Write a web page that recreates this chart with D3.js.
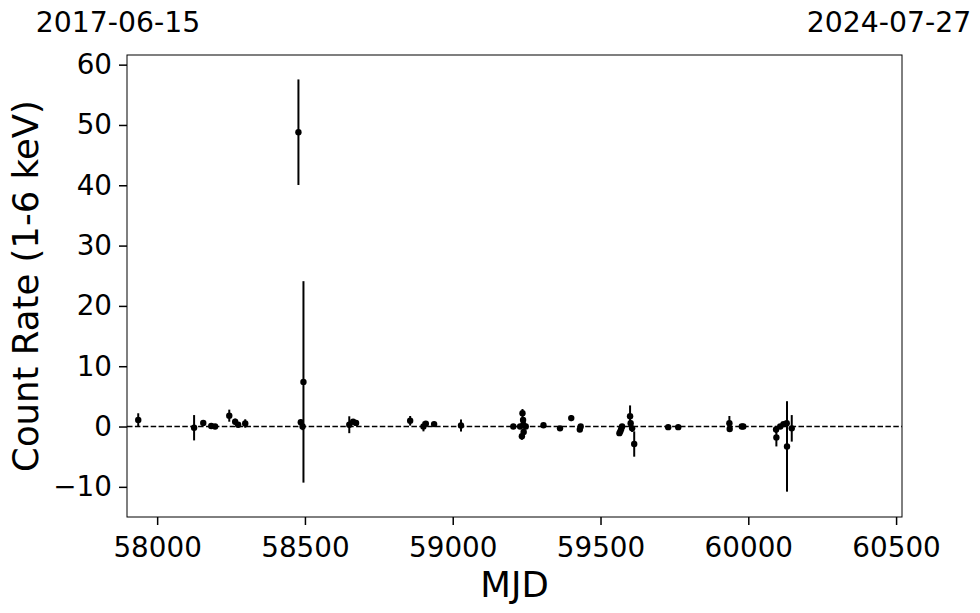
<!DOCTYPE html>
<html><head><meta charset="utf-8">
<script src="https://cdn.jsdelivr.net/npm/d3@7"></script>
<style>body{margin:0;background:#fff}svg{display:block}text{font-family:"DejaVu Sans",sans-serif;fill:#000}</style>
</head><body>
<svg id="c" width="980" height="613"></svg>
<script>
const mjd  = [57936,58125,58156,58183,58196,58244,58264,58274,58298,
  58478,58486,58492,58495,58650,58663,58673,
  58856,58901,58909,58937,59028,
  59205,59228,59234,59236,59238,59239,59240,59247,
  59307,59363,59401,59430,59433,
  59564,59567,59570,59573,59600,59602,59607,59614,59729,59763,
  59936,59937,59978,59983,60094,60095,60108,60119,60130,60131,60147];
const rate = [1.1,-0.2,0.6,0.1,0.0,1.8,0.8,0.3,0.5,
  48.8,0.7,0.0,7.4,0.3,0.8,0.6,
  0.95,0.0,0.45,0.4,0.17,
  0.0,0.0,-1.6,2.2,1.1,0.3,-0.9,0.0,
  0.2,-0.3,1.4,-0.5,0.0,
  -1.1,-0.8,-0.4,0.0,1.7,0.55,-0.3,-2.9,-0.1,-0.1,
  0.55,-0.4,0.0,0.0,-0.5,-1.8,0.0,0.4,0.55,-3.3,-0.3];
const err  = [1.1,2.1,0.3,0.3,0.3,1.0,0.5,0.3,0.7,
  8.75,0.4,0.6,16.7,1.4,0.4,0.3,
  0.8,0.8,0.4,0.4,1.0,
  0.3,0.4,0.6,0.7,0.5,0.5,0.5,0.4,
  0.4,0.3,0.5,0.4,0.3,
  0.4,0.5,0.5,0.4,1.8,0.5,0.6,2.1,0.3,0.3,
  1.2,0.4,0.3,0.4,0.6,1.5,0.3,0.3,0.4,7.5,2.2];
const xTicks = [58000,58500,59000,59500,60000,60500];
const yTicks = [-10,0,10,20,30,40,50,60];
const xDomain = [57898,60520];
const yDomain = [-15,61.6];
const dateLabels = ["2017-06-15","2024-07-27"];
const xLabel = "MJD", yLabel = "Count Rate (1-6 keV)";

const L=127,R=902,T=55,B=517;
const svg=d3.select("#c");
const x=d3.scaleLinear().domain(xDomain).range([L,R]);
const y=d3.scaleLinear().domain(yDomain).range([B,T]);
const data=mjd.map((m,i)=>({m,r:rate[i],e:err[i]}));

svg.append("line").attr("x1",L).attr("x2",R).attr("y1",y(0)).attr("y2",y(0))
  .attr("stroke","#000").attr("stroke-width",1.5).attr("stroke-dasharray","5.5,2.4");

const g=svg.append("g");
g.selectAll("line.eb").data(data).join("line").attr("class","eb")
  .attr("x1",d=>x(d.m)).attr("x2",d=>x(d.m))
  .attr("y1",d=>y(d.r-d.e)).attr("y2",d=>y(d.r+d.e))
  .attr("stroke","#000").attr("stroke-width",2);
g.selectAll("circle").data(data).join("circle")
  .attr("cx",d=>x(d.m)).attr("cy",d=>y(d.r)).attr("r",3.2).attr("fill","#000");

svg.append("rect").attr("x",L).attr("y",T).attr("width",R-L).attr("height",B-T)
  .attr("fill","none").attr("stroke","#000").attr("stroke-width",1);

const xa=svg.append("g").attr("transform",`translate(0,${B})`)
  .call(d3.axisBottom(x).tickValues(xTicks).tickSize(8).tickPadding(12).tickFormat(d3.format("d")));
const ya=svg.append("g").attr("transform",`translate(${L},0)`)
  .call(d3.axisLeft(y).tickValues(yTicks).tickSize(8).tickPadding(7)
  .tickFormat(d=>d<0?"\u2212"+Math.abs(d):d));
[xa,ya].forEach(a=>{a.select(".domain").remove();
  a.selectAll(".tick line").attr("stroke","#000").attr("stroke-width",1.5);
  a.selectAll("text").attr("font-size",27.8).attr("font-family","DejaVu Sans").attr("fill","#000");});

svg.append("text").attr("x",(L+R)/2).attr("y",597).attr("text-anchor","middle")
  .attr("font-size",35.5).text(xLabel);
svg.append("text").attr("transform",`translate(38,${(T+B)/2}) rotate(-90)`)
  .attr("text-anchor","middle").attr("font-size",35.5).text(yLabel);
svg.append("text").attr("x",118).attr("y",32).attr("text-anchor","middle")
  .attr("font-size",28.3).text(dateLabels[0]);
svg.append("text").attr("x",889).attr("y",32).attr("text-anchor","middle")
  .attr("font-size",28.3).text(dateLabels[1]);
</script>
</body></html>
